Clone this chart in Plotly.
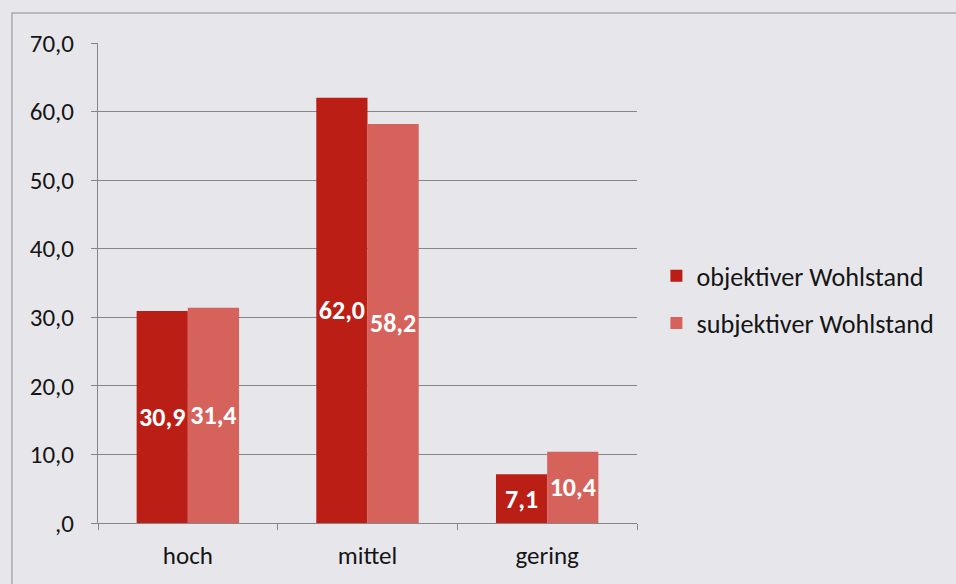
import plotly.graph_objects as go

categories = ["hoch", "mittel", "gering"]
objektiv = [30.9, 62.0, 7.1]
subjektiv = [31.4, 58.2, 10.4]
series_names = ["objektiver Wohlstand", "subjektiver Wohlstand"]
y_ticks = [0, 10, 20, 30, 40, 50, 60, 70]
y_tick_labels = [",0", "10,0", "20,0", "30,0", "40,0", "50,0", "60,0", "70,0"]

def de(v):
    return f"{v:.1f}".replace(".", ",")

FONT = "Carlito, Lato, 'Open Sans', sans-serif"
colors = ["#BA1E15", "#D6625C"]
TXT = "#151515"
BG = "#E7E7EB"

fig = go.Figure()
for name, vals, col, grp in [(series_names[0], objektiv, colors[0], "a"),
                             (series_names[1], subjektiv, colors[1], "b")]:
    fig.add_trace(go.Bar(
        x=categories, y=vals, name=name, marker_color=col,
        marker_line_width=0, legendgroup=grp,
        text=[de(v) for v in vals], textposition="inside",
        insidetextanchor="middle", textangle=0, constraintext="none",
        textfont=dict(color="white", size=26, family=FONT, weight="bold"),
        cliponaxis=False,
    ))

fig.update_layout(
    width=956, height=584,
    margin=dict(l=98, r=319, t=43, b=61, autoexpand=False),
    paper_bgcolor=BG, plot_bgcolor=BG,
    barmode="group", bargap=0.43, bargroupgap=0,
    font=dict(family=FONT, size=25, color=TXT),
    uniformtext=dict(mode=False),
    legend=dict(x=1.036, y=0.465, xanchor="left", yanchor="middle",
                font=dict(size=26.2, color=TXT, family=FONT),
                tracegroupgap=10, bgcolor="rgba(0,0,0,0)",
                itemwidth=30),
    showlegend=True,
)
fig.update_yaxes(range=[0, 70], tickvals=y_ticks, ticktext=y_tick_labels,
                 showgrid=True, gridcolor="#85858A", gridwidth=1,
                 showline=True, linecolor="#85858A", linewidth=1,
                 ticks="outside", ticklen=6, tickcolor="#85858A",
                 ticklabelstandoff=12,
                 zeroline=False, tickfont=dict(size=25, color=TXT))
fig.update_xaxes(showline=True, linecolor="#85858A", linewidth=1,
                 ticks="outside", tickson="boundaries", ticklen=6,
                 tickcolor="#85858A", ticklabelstandoff=10,
                 tickfont=dict(size=25, color=TXT))
fig.add_shape(type="rect", xref="paper", yref="paper",
              x0=-0.1596, x1=1.9, y0=-0.4, y1=1.0625,
              line=dict(color="#A8A8AE", width=1.5), fillcolor="rgba(0,0,0,0)",
              layer="below")
fig.write_html(
    "out.html",
    config={"displayModeBar": False},
    post_script="document.body.style.margin='0';document.body.style.overflow='hidden';"
                "document.body.style.background='" + BG + "';",
)
